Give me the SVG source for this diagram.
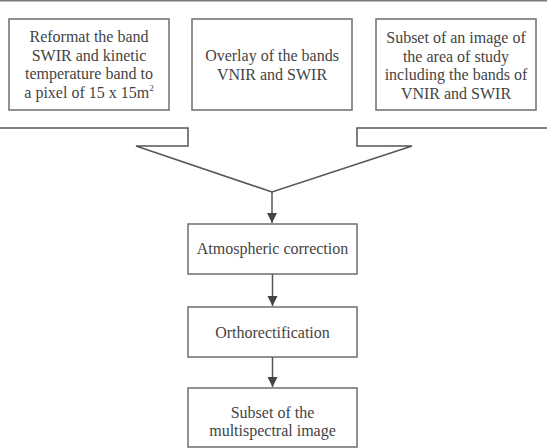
<svg xmlns="http://www.w3.org/2000/svg" width="547" height="448" viewBox="0 0 547 448">
<defs>
<style>
.box{fill:#fff;stroke:#6e6e6e;stroke-width:1.5}
.t{font-family:"Liberation Serif","Times New Roman",serif;font-size:16px;fill:#444;text-anchor:middle}
.c{fill:none;stroke:#555;stroke-width:1.5}
</style>
<marker id="a" markerWidth="10" markerHeight="11" refX="10" refY="5" orient="auto" markerUnits="userSpaceOnUse" viewBox="0 0 10 10">
<path d="M0,0 L10,5 L0,10 Z" fill="#444"/>
</marker>
</defs>
<rect width="547" height="448" fill="#fff"/>
<line x1="0" y1="0.75" x2="547" y2="0.75" stroke="#777" stroke-width="1.5"/>
<g id="n1">
<rect class="box" x="9" y="19" width="160" height="91"/>
<text class="t" x="89" y="42">Reformat the band</text>
<text class="t" x="89" y="60.5">SWIR and kinetic</text>
<text class="t" x="89" y="79">temperature band to</text>
<text class="t" x="89" y="97.5">a pixel of 15 x 15m<tspan font-size="9" dy="-7">2</tspan></text>
</g>
<g id="n2">
<rect class="box" x="192" y="19" width="160" height="91"/>
<text class="t" x="272" y="61">Overlay of the bands</text>
<text class="t" x="272" y="79.5">VNIR and SWIR</text>
</g>
<g id="n3">
<rect class="box" x="376" y="19" width="160" height="91"/>
<text class="t" x="456" y="43">Subset of an image of</text>
<text class="t" x="456" y="61.5">the area of study</text>
<text class="t" x="456" y="80">including the bands of</text>
<text class="t" x="456" y="98.5">VNIR and SWIR</text>
</g>
<g id="n4">
<rect class="box" x="188" y="224" width="169" height="50"/>
<text class="t" x="272.5" y="254">Atmospheric correction</text>
</g>
<g id="n5">
<rect class="box" x="188" y="307" width="169" height="50"/>
<text class="t" x="272.5" y="338">Orthorectification</text>
</g>
<g id="n6">
<rect class="box" x="188" y="388" width="169" height="59"/>
<text class="t" x="272.5" y="418">Subset of the</text>
<text class="t" x="272.5" y="436">multispectral image</text>
</g>
<g id="connectors">
<path class="c" d="M0,128 H188 V146 H136 L272,192 L412,146 H357 V128 H547"/>
<line class="c" x1="272" y1="192" x2="272" y2="223" marker-end="url(#a)"/>
<line class="c" x1="272.5" y1="274" x2="272.5" y2="306" marker-end="url(#a)"/>
<line class="c" x1="272.5" y1="357" x2="272.5" y2="387" marker-end="url(#a)"/>
</g>
</svg>
